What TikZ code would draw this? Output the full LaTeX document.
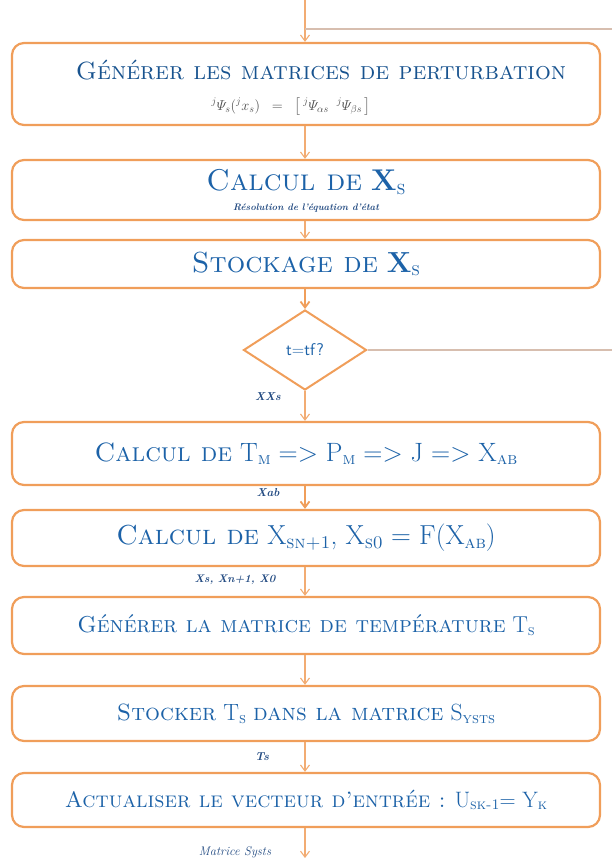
\documentclass[tikz,border=0pt]{standalone}
\usepackage{amsmath}
\usetikzlibrary{shapes.geometric,arrows.meta}
\definecolor{boxor}{RGB}{240,158,90}
\definecolor{lineor}{RGB}{242,172,115}
\definecolor{txtblue}{RGB}{28,98,168}
\definecolor{lblblue}{RGB}{35,75,130}
\definecolor{greyline}{RGB}{215,190,175}
\newcommand\lowsc[2][0.65]{\raisebox{-0.12em}{\scalebox{#1}{\textsc{#2}}}}
\begin{document}
\begin{tikzpicture}[x=1pt,y=-1pt,
  procbox/.style={draw=boxor, line width=2.2pt, rounded corners=12pt, fill=white,
    minimum width=588pt, inner sep=0pt, align=center, text=txtblue},
  decbox/.style={diamond, draw=boxor, line width=2pt, fill=white, minimum width=123pt,
    minimum height=80pt, inner sep=0pt, text=txtblue, font=\sffamily\fontsize{17}{19}\selectfont},
  conn/.style={draw=lineor, line width=1.1pt, -{Straight Barb[length=6pt,width=9pt]}},
  thickconn/.style={draw=boxor, line width=1.8pt, -{Straight Barb[length=6pt,width=9pt]}},
  loopline/.style={draw=greyline, line width=1.1pt},
  lbl/.style={text=lblblue, font=\bfseries\itshape\fontsize{11.5}{13}\selectfont, inner sep=0pt}
]
\useasboundingbox (0,0) rectangle (612,858);

\node[procbox, minimum height=82pt] (b1) at (306,84) {};
\node[text=txtblue!85!black, inner sep=0pt, font=\fontsize{24.9}{28}\selectfont] (t1) at (321,70) {\textsc{Générer les matrices de perturbation}};
\node[text=black!70, inner sep=0pt, font=\fontsize{14}{16}\selectfont] (f1) at (291,106.5)
  {${}^{j}\varPsi_{s}({}^{j}x_{s})\;\;=\;\;\begin{bmatrix}\,{}^{j}\varPsi_{\alpha s}\;\;{}^{j}\varPsi_{\beta s}\,\end{bmatrix}$};

\node[procbox, minimum height=60pt] (b2) at (306,190) {};
\node[text=txtblue, inner sep=0pt, font=\fontsize{30}{32}\selectfont] (t2) at (306,182) {\textsc{Calcul de} \textbf{X}\lowsc{s}};
\node[text=lblblue, inner sep=0pt, font=\bfseries\itshape\fontsize{9.5}{11}\selectfont] (s2) at (306,208) {Résolution de l'équation d'état};

\node[procbox, minimum height=48pt, font=\fontsize{29}{30}\selectfont] (b3) at (306,264) {\textsc{Stockage de} \textbf{X}\lowsc{s}};

\node[decbox] (d) at (305,350) {t=tf?};

\node[procbox, minimum height=63pt, font=\fontsize{26.5}{30}\selectfont] (b4) at (306,453.5)
  {\textsc{Calcul de} T\lowsc{m} => P\lowsc{m} => J => X\lowsc{ab}};

\node[procbox, minimum height=56pt, font=\fontsize{27.5}{30}\selectfont] (b5) at (306,538)
  {\textsc{Calcul de} X\lowsc{sn+1}, X\lowsc{s0} = F(X\lowsc{ab})};

\node[procbox, minimum height=57pt, font=\fontsize{23}{26}\selectfont] (b6) at (306,625.5)
  {\textsc{Générer la matrice de température} T\lowsc{s}};

\node[procbox, minimum height=55pt, font=\fontsize{23.5}{26}\selectfont] (b7) at (306,713.5)
  {\textsc{Stocker} T\lowsc{s} \textsc{dans la matrice} S\lowsc{ysts}};

\node[procbox, minimum height=54pt, font=\fontsize{22.3}{26}\selectfont] (b8) at (306,800)
  {\textsc{Actualiser le vecteur d'entrée :} U\lowsc{sk-1}= Y\lowsc{k}};

% labels
\node[lbl] (l1) at (268,397) {XXs};
\node[lbl] (l2) at (268,493) {Xab};
\node[lbl, font=\bfseries\itshape\fontsize{11}{13}\selectfont] (l3) at (235,580) {Xs, Xn+1, X0};
\node[lbl] (l4) at (262,757) {Ts};
\node[lbl, font=\itshape\fontsize{12.5}{14}\selectfont] (l5) at (235,852) {Matrice Systs};

% connectors
\coordinate (topin) at (305,0);
\coordinate (looptop) at (305,29);
\coordinate (loopright) at (612,29);
\coordinate (decright) at (612,350);
\coordinate (botout) at (305,858);

\draw[conn] (topin) -- (b1.north -| topin);
\draw[loopline] (looptop) -- (loopright);
\draw[conn] (b1.south -| topin) -- (b2.north -| topin);
\draw[conn] (b2.south -| topin) -- (b3.north -| topin);
\draw[thickconn] (b3.south -| topin) -- (d.north);
\draw[loopline] (d.east) -- (decright);
\draw[conn] (d.south) -- (b4.north -| topin);
\draw[thickconn] (b4.south -| topin) -- (b5.north -| topin);
\draw[conn] (b5.south -| topin) -- (b6.north -| topin);
\draw[conn] (b6.south -| topin) -- (b7.north -| topin);
\draw[conn] (b7.south -| topin) -- (b8.north -| topin);
\draw[conn] (b8.south -| topin) -- (botout);
\end{tikzpicture}
\end{document}
